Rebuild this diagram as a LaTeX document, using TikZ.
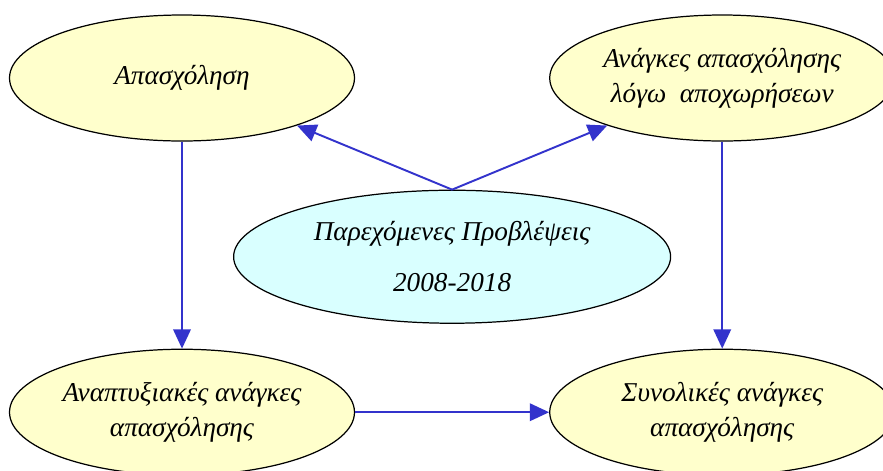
\documentclass[tikz,border=0pt]{standalone}
\usepackage{fontspec}
\setmainfont{Liberation Serif}
\usetikzlibrary{arrows.meta, positioning, shapes.geometric, calc}

\definecolor{needfill}{HTML}{FFFFCC}
\definecolor{forefill}{HTML}{D9FFFF}
\definecolor{flowblue}{HTML}{3333CC}

\begin{document}
\begin{tikzpicture}[
    >={Triangle[length=11pt, width=10pt]},
    need/.style={draw, ellipse, line width=0.7pt, fill=needfill,
                 minimum width=6.9cm, minimum height=2.52cm, inner sep=0pt,
                 align=center, font=\fontsize{15.5}{20}\selectfont\itshape},
    forecast/.style={need, fill=forefill, minimum width=8.74cm,
                     minimum height=2.66cm,
                     font=\fontsize{15.5}{29}\selectfont\itshape},
    flow/.style={->, draw=flowblue, fill=flowblue, line width=1.1pt}
  ]
  \useasboundingbox (0,0) rectangle (17.66,-9.4);

  \node[need] (emp) at (3.64,-1.56) {Απασχόληση};
  \node[need, right=3.88cm of emp] (ret) {Ανάγκες απασχόλησης\\λόγω\ \ αποχωρήσεων};
  \node[need, below=4.14cm of emp] (dev) {Αναπτυξιακές ανάγκες\\απασχόλησης};
  \node[need] (tot) at (ret |- dev) {Συνολικές ανάγκες\\απασχόλησης};

  \coordinate (mid) at ($(emp.south)!0.5!(ret.south)$);
  \node[forecast, below=0.96cm of mid] (fc) {Παρεχόμενες Προβλέψεις\\2008-2018};

  \draw[flow] (fc.north) -- (emp);
  \draw[flow] (fc.north) -- (ret);
  \draw[flow] (emp.south) -- (dev.north);
  \draw[flow] (ret.south) -- (tot.north);
  \draw[flow] (dev.east) -- (tot.west);
\end{tikzpicture}
\end{document}
